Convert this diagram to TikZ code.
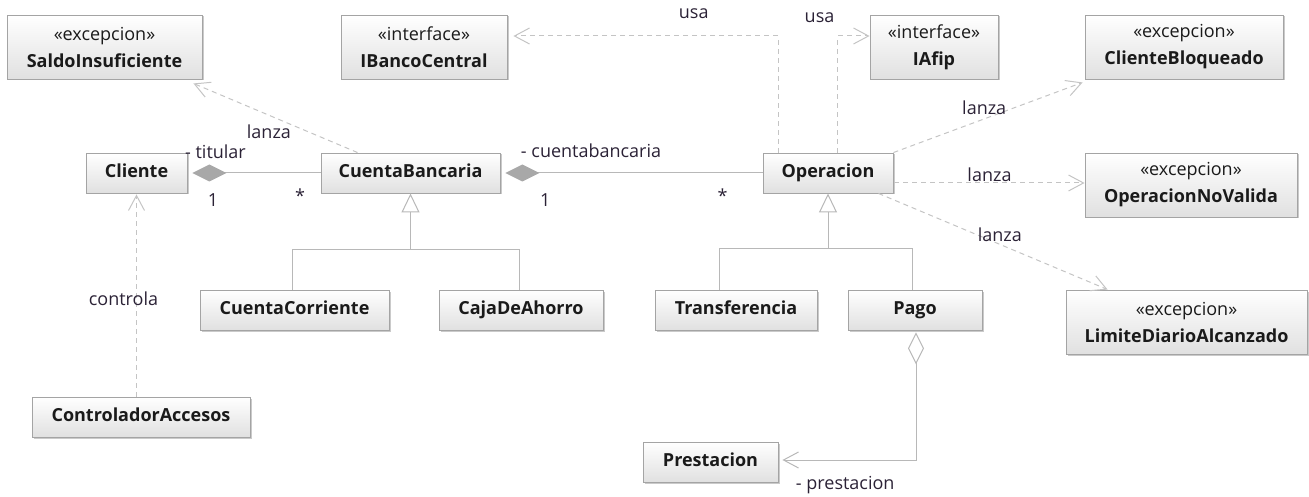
\documentclass[tikz,border=0pt]{standalone}
\usepackage{fontspec}
\setmainfont{Open Sans}
\usetikzlibrary{arrows.meta,shadows,calc}
\definecolor{boxline}{HTML}{A4A4A4}
\definecolor{conn}{HTML}{B8B8B8}
\definecolor{dep}{HTML}{C4C4C4}
\definecolor{diafill}{HTML}{A8A8A8}
\definecolor{txt}{HTML}{1A1A1A}
\definecolor{lbltxt}{HTML}{2B2236}
\begin{document}
\begin{tikzpicture}[x=1pt,y=-1pt,
  boxbase/.style={draw=boxline, line width=0.9pt, top color=white, bottom color=black!12,
    drop shadow={shadow xshift=1.5pt, shadow yshift=-1.5pt, fill=black!35, opacity=0.6},
    inner sep=0pt, font=\fontsize{18}{21}\selectfont\bfseries, text=txt},
  cls/.style={boxbase, minimum height=40pt, text height=13pt, text depth=4pt},
  stcls/.style={boxbase, minimum height=64pt, align=center},
  lbl/.style={font=\fontsize{18}{21}\selectfont, text=lbltxt, inner sep=1pt},
  depend/.style={draw=dep, line width=1pt, dash pattern=on 5pt off 4pt,
    -{Straight Barb[length=15pt,width=16pt,line width=1pt]}},
  assoc/.style={draw=conn, line width=1pt},
  comp/.style={assoc, -{Diamond[length=34pt,width=17pt,fill=diafill,color=diafill]}},
  gen/.style={assoc, -{Triangle[length=19pt,width=18pt,fill=white]}}
]
\useasboundingbox (0,0) rectangle (1309,497);

% classes
\node[stcls, minimum width=195pt] (saldo) at (104.5,47) {{\mdseries «excepcion»}\\[6pt]SaldoInsuficiente};
\node[stcls, minimum width=166pt] (ibc) at (424,47) {{\mdseries «interface»}\\[6pt]IBancoCentral};
\node[stcls, minimum width=128pt] (iafip) at (934,47) {{\mdseries «interface»}\\[6pt]IAfip};
\node[stcls, minimum width=198pt] (cbloq) at (1184,47) {{\mdseries «excepcion»}\\[6pt]ClienteBloqueado};
\node[cls, minimum width=101pt] (cliente) at (136.5,173) {Cliente};
\node[cls, minimum width=179pt] (cuenta) at (410.5,173) {CuentaBancaria};
\node[cls, minimum width=130pt] (oper) at (828,173) {Operacion};
\node[stcls, minimum width=212pt] (onv) at (1191,185) {{\mdseries «excepcion»}\\[6pt]OperacionNoValida};
\node[cls, minimum width=189pt] (ccorr) at (294.5,310) {CuentaCorriente};
\node[cls, minimum width=164pt] (caja) at (521,310) {CajaDeAhorro};
\node[cls, minimum width=162pt] (transf) at (736,310) {Transferencia};
\node[cls, minimum width=134pt] (pago) at (915,310) {Pago};
\node[stcls, minimum width=241pt] (lda) at (1186.5,322) {{\mdseries «excepcion»}\\[6pt]LimiteDiarioAlcanzado};
\node[cls, minimum width=218pt] (ctrl) at (141,417) {ControladorAccesos};
\node[cls, minimum width=135pt] (prest) at (710.5,462) {Prestacion};

% generalizations
\coordinate (g1) at ($(cuenta.south)+(0,56)$);
\coordinate (g2) at ($(oper.south)+(0,55)$);
\draw[assoc] ($(ccorr.north)+(-2,0)$) |- (g1) -| ($(caja.north)+(-2,0)$);
\draw[gen] (g1) -- (cuenta.south);
\draw[assoc] ($(transf.north)+(-17,0)$) |- (g2) -| ($(pago.north)+(-3,0)$);
\draw[gen] (g2) -- (oper.south);

% compositions
\draw[comp] (cuenta.west) -- node[lbl, pos=0.82, yshift=21pt]{- titular}
  node[lbl, pos=0.84, yshift=-27pt]{1}
  node[lbl, pos=0.16, yshift=-23pt]{*} ($(cliente.east)+(5,0)$);
\draw[comp] (oper.west) -- node[lbl, pos=0.667, yshift=22pt]{- cuentabancaria}
  node[lbl, pos=0.845, yshift=-27pt]{1}
  node[lbl, pos=0.155, yshift=-23pt]{*} ($(cuenta.east)+(5,0)$);

% aggregation Pago -> Prestacion
\draw[assoc, {Diamond[length=32pt,width=16pt,fill=white]}-{Straight Barb[length=15pt,width=16pt,line width=1pt]}]
  ($(pago.south)+(1,2)$) |- node[lbl, pos=0.765, yshift=-25pt]{- prestacion} ($(prest.east)+(4,-2)$);

% dependencies
\draw[depend] ($(cuenta.north west)+(37,0)$) -- node[lbl, pos=0.54, yshift=-17pt]{lanza} ($(saldo.south east)+(-9,4)$);
\draw[depend] ($(oper.north west)+(16,0)$) |- node[lbl, pos=0.66, yshift=22pt]{usa} ($(ibc.east)+(6,-11)$);
\draw[depend] ($(oper.north west)+(75,0)$) |- node[lbl, pos=0.5, xshift=-18pt, yshift=18pt]{usa} ($(iafip.west)+(0,-11)$);
\draw[depend] (oper.north east) -- node[lbl, pos=0.48, yshift=11pt]{lanza} ($(cbloq.south west)+(-2,3)$);
\draw[depend] ($(oper.east)+(1,10)$) -- node[lbl, pos=0.5, yshift=8pt]{lanza} ($(onv.west)+(0,-2)$);
\draw[depend] ($(oper.south east)+(-15,0)$) -- node[lbl, pos=0.53, yshift=10pt]{lanza} ($(lda.north west)+(42,0)$);
\draw[depend] (ctrl.north -| cliente.south) -- node[lbl, pos=0.485, xshift=-13pt]{controla} ($(cliente.south)+(0,1)$);
\end{tikzpicture}
\end{document}
